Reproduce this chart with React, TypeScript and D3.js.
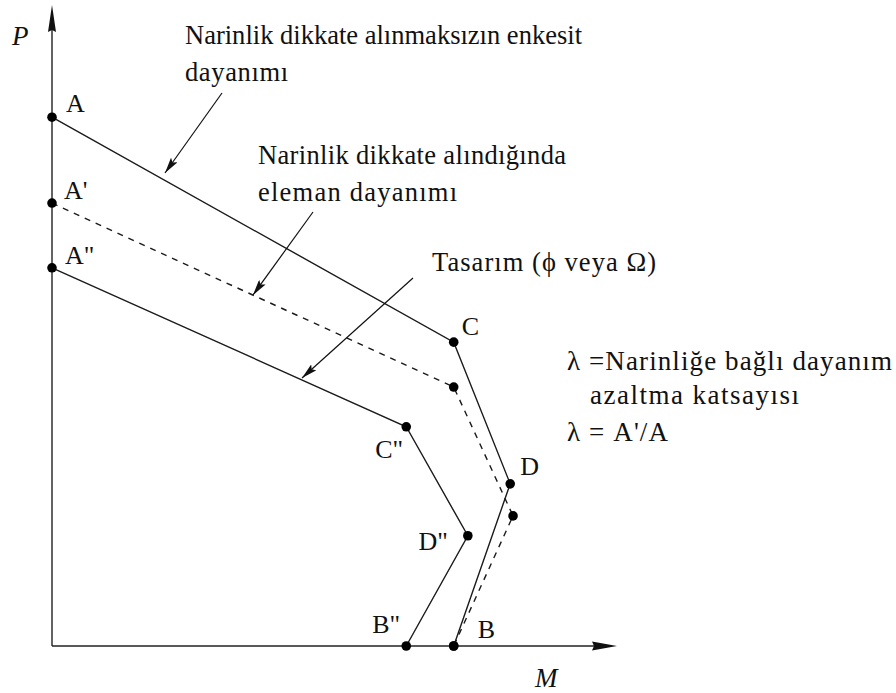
import React from "react";
import * as d3 from "d3";

const W = 896;
const H = 693;

// Interaction curves (M, P in % of axis length)
const nominalM = [0, 71.1, 81.1, 71.1];
const nominalP = [82.5, 47.4, 25.3, 0];
const nominalNames = ["A", "C", "D", "B"];

const slenderM = [0, 71.1, 81.6, 71.1];
const slenderP = [69.1, 40.4, 20.3, 0];
const slenderNames = ["A'", "", "", ""];

const designM = [0, 62.7, 73.6, 62.7];
const designP = [59.0, 34.2, 17.2, 0];
const designNames = ['A"', 'C"', 'D"', 'B"'];

// label offsets [dx, dy, anchor]
const nominalOffsets: [number, number, string][] = [[14, -5, "start"], [8, -7, "start"], [10, -9, "start"], [24, -8, "start"]];
const slenderOffsets: [number, number, string][] = [[12, -4, "start"], [0, 0, "start"], [0, 0, "start"], [0, 0, "start"]];
const designOffsets: [number, number, string][] = [[13, -4, "start"], [-3, 31, "end"], [-20, 14, "end"], [-6, -13, "end"]];

const annotations = [
  { lines: ["Narinlik dikkate alınmaksızın enkesit", "dayanımı"], widths: [397, 103], x: 185, y: 44, from: [222, 93], to: [165, 173] },
  { lines: ["Narinlik dikkate alındığında", "eleman dayanımı"], widths: [308, 199], x: 258, y: 164, from: [313, 212], to: [253, 295] },
  { lines: ["Tasarım (\u03D5 veya \u03A9)"], widths: [224], x: 432, y: 271, from: [413, 278], to: [302, 378] },
];

const noteLines = [
  { text: "\u03BB =Narinliğe bağlı dayanım", x: 567, y: 370, w: 325 },
  { text: "azaltma katsayısı", x: 590, y: 404, w: 209 },
  { text: "\u03BB = A'/A", x: 567, y: 441, w: 101 },
];

const FONT = "Liberation Serif, DejaVu Serif, serif";

export default function App() {
  const x = d3.scaleLinear().domain([0, 100]).range([52, 617]);
  const y = d3.scaleLinear().domain([0, 100]).range([646, 5]);
  const line = d3.line<[number, number]>().x((d) => x(d[0])).y((d) => y(d[1]));

  const series = [
    { M: nominalM, P: nominalP, names: nominalNames, offs: nominalOffsets, dash: undefined },
    { M: slenderM, P: slenderP, names: slenderNames, offs: slenderOffsets, dash: "6,6" },
    { M: designM, P: designP, names: designNames, offs: designOffsets, dash: undefined },
  ];

  const x0 = x(0), y0 = y(0), xEnd = x(100), yEnd = y(100);

  return (
    <svg width={W} height={H} style={{ position: "absolute", left: 0, top: 0, background: "#fff", fontFamily: FONT }}>
      <defs>
        <marker id="ah" viewBox="0 0 16 8" refX="16" refY="4" markerWidth="16" markerHeight="8" markerUnits="userSpaceOnUse" orient="auto">
          <path d="M0,0 L16,4 L0,8 L3,4 Z" fill="#111" />
        </marker>
      </defs>
      {/* axes */}
      <line x1={x0} y1={y0} x2={xEnd - 20} y2={y0} stroke="#222" strokeWidth={1.6} />
      <line x1={x0} y1={y0} x2={x0} y2={yEnd + 20} stroke="#222" strokeWidth={1.4} />
      <path d={`M${xEnd},${y0} L${xEnd - 25},${y0 - 4.5} L${xEnd - 23},${y0} L${xEnd - 25},${y0 + 4.5} Z`} fill="#111" />
      <path d={`M${x0},${yEnd} L${x0 - 4},${yEnd + 27} L${x0},${yEnd + 25} L${x0 + 4},${yEnd + 27} Z`} fill="#111" />
      <text x={12} y={45} fontSize={27} fontStyle="italic" fill="#111" style={{ fontFamily: FONT }}>P</text>
      <text x={535} y={687} fontSize={27} fontStyle="italic" fill="#111" style={{ fontFamily: FONT }}>M</text>

      {series.map((s, si) => {
        const pts: [number, number][] = s.M.map((m, i) => [m, s.P[i]]);
        return (
          <g key={si}>
            <path d={line(pts) || ""} fill="none" stroke="#1a1a1a" strokeWidth={1.4} strokeDasharray={s.dash} />
            {pts.map((p, i) => (
              <circle key={i} cx={x(p[0])} cy={y(p[1])} r={4.8} fill="#000" />
            ))}
            {pts.map((p, i) =>
              s.names[i] ? (
                <text key={"t" + i} x={x(p[0]) + s.offs[i][0]} y={y(p[1]) + s.offs[i][1]} textAnchor={s.offs[i][2] as any} fontSize={26} fill="#111" style={{ fontFamily: FONT }}>
                  {s.names[i]}
                </text>
              ) : null
            )}
          </g>
        );
      })}

      {annotations.map((a, i) => (
        <g key={"a" + i}>
          {a.lines.map((t, j) => (
            <text key={j} x={a.x} y={a.y + j * 37} fontSize={26.5} fill="#111" textLength={a.widths[j]} lengthAdjust="spacing" style={{ fontFamily: FONT }}>{t}</text>
          ))}
          <line x1={a.from[0]} y1={a.from[1]} x2={a.to[0]} y2={a.to[1]} stroke="#111" strokeWidth={1.2} markerEnd="url(#ah)" />
        </g>
      ))}

      {noteLines.map((n, i) => (
        <text key={"n" + i} x={n.x} y={n.y} fontSize={27} fill="#111" textLength={n.w} lengthAdjust="spacing" style={{ fontFamily: FONT }}>{n.text}</text>
      ))}
    </svg>
  );
}
